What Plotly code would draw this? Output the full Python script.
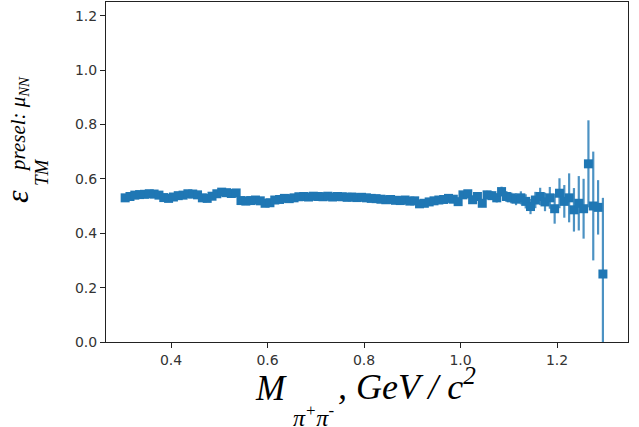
import plotly.graph_objects as go

# bin centres (GeV/c^2)
mass = [0.305 + 0.01 * i for i in range(100)]

eff = [
    0.530, 0.535, 0.540, 0.542, 0.543, 0.545, 0.544, 0.540, 0.531, 0.528,
    0.533, 0.538, 0.540, 0.545, 0.544, 0.541, 0.530, 0.528, 0.536, 0.545,
    0.551, 0.549, 0.546, 0.548, 0.520, 0.518, 0.520, 0.522, 0.519, 0.510,
    0.512, 0.522, 0.524, 0.528, 0.527, 0.530, 0.534, 0.535, 0.533, 0.536,
    0.535, 0.534, 0.536, 0.533, 0.535, 0.534, 0.532, 0.533, 0.531, 0.532,
    0.530, 0.528, 0.527, 0.525, 0.523, 0.524, 0.521, 0.520, 0.522, 0.518,
    0.519, 0.508, 0.510, 0.515, 0.519, 0.522, 0.524, 0.528, 0.525, 0.516,
    0.541, 0.545, 0.523, 0.535, 0.510, 0.541, 0.538, 0.530, 0.553, 0.535,
    0.530, 0.525, 0.530, 0.517, 0.498, 0.522, 0.535, 0.515, 0.530, 0.490,
    0.547, 0.517, 0.530, 0.486, 0.510, 0.490, 0.655, 0.500, 0.495, 0.250,
]

err = [
    0.004, 0.004, 0.004, 0.004, 0.004, 0.004, 0.004, 0.004, 0.004, 0.004,
    0.004, 0.004, 0.004, 0.004, 0.004, 0.004, 0.004, 0.004, 0.004, 0.004,
    0.004, 0.004, 0.004, 0.004, 0.004, 0.004, 0.004, 0.004, 0.004, 0.004,
    0.004, 0.004, 0.004, 0.004, 0.004, 0.004, 0.004, 0.004, 0.004, 0.004,
    0.005, 0.005, 0.005, 0.005, 0.005, 0.005, 0.005, 0.005, 0.005, 0.005,
    0.006, 0.006, 0.006, 0.006, 0.006, 0.006, 0.006, 0.006, 0.006, 0.006,
    0.008, 0.008, 0.008, 0.008, 0.008, 0.009, 0.009, 0.009, 0.010, 0.010,
    0.012, 0.012, 0.013, 0.013, 0.014, 0.015, 0.016, 0.017, 0.018, 0.020,
    0.020, 0.022, 0.024, 0.026, 0.028, 0.030, 0.032, 0.034, 0.040, 0.055,
    0.055, 0.060, 0.090, 0.080, 0.100, 0.110, 0.160, 0.200, 0.100, 0.280,
]

x_ticks = [0.4, 0.6, 0.8, 1.0, 1.2]
y_ticks = [0.0, 0.2, 0.4, 0.6, 0.8, 1.0, 1.2]

BLUE = "#1f77b4"

fig = go.Figure()
fig.add_trace(go.Scatter(
    x=mass, y=eff, mode="markers",
    marker=dict(symbol="square", size=9, color=BLUE, line=dict(width=0)),
    error_y=dict(type="data", array=err, visible=True, color="rgba(31,119,180,0.8)",
                 thickness=2.2, width=0),
    showlegend=False,
))

W, H = 639, 427
L, R, T, B = 106, 11, 2, 85
pw, ph = W - L - R, H - T - B


def px(xp):
    return (xp - L) / pw


def py(yp):
    return (H - B - yp) / ph


serif = "Liberation Serif"
ann = []
# y-axis label pieces
ann.append(dict(text="ε", x=px(17), y=py(197), xref="paper", yref="paper",
                xanchor="center", yanchor="middle", textangle=-90, showarrow=False,
                font=dict(family=serif, size=32, color="black", style="italic")))
ann.append(dict(text="TM", x=px(41), y=py(172), xref="paper", yref="paper",
                xanchor="center", yanchor="middle", textangle=-90, showarrow=False,
                font=dict(family=serif, size=19, color="black", style="italic")))
ann.append(dict(text="presel: μ<sub>NN</sub>", x=px(19), y=py(124), xref="paper", yref="paper",
                xanchor="center", yanchor="middle", textangle=-90, showarrow=False,
                font=dict(family=serif, size=21, color="black", style="italic")))
# x-axis label pieces
ann.append(dict(text="M", x=px(253), y=py(410), xref="paper", yref="paper",
                xanchor="left", yanchor="bottom", showarrow=False,
                font=dict(family=serif, size=35, color="black", style="italic")))
ann.append(dict(text="π<sup>+</sup>π<sup>-</sup>", x=px(291), y=py(433), xref="paper", yref="paper",
                xanchor="left", yanchor="bottom", showarrow=False,
                font=dict(family=serif, size=24, color="black", style="italic")))
ann.append(dict(text=", GeV / c<sup>2</sup>", x=px(336), y=py(409), xref="paper", yref="paper",
                xanchor="left", yanchor="bottom", showarrow=False,
                font=dict(family=serif, size=36, color="black", style="italic")))

axis_common = dict(
    showline=True, mirror=True, linecolor="#222", linewidth=1,
    ticks="outside", ticklen=5, tickwidth=1, tickcolor="#222",
    showgrid=False, zeroline=False, automargin=False,
    tickfont=dict(family="DejaVu Sans", size=14, color="#333"),
)

fig.update_layout(
    width=W, height=H,
    margin=dict(l=L, r=R, t=T, b=B, pad=0, autoexpand=False),
    paper_bgcolor="white", plot_bgcolor="white",
    xaxis=dict(range=[0.2653, 1.347], tickvals=x_ticks, tickformat=".1f", **axis_common),
    yaxis=dict(range=[0, 1.25], tickvals=y_ticks, tickformat=".1f", **axis_common),
    annotations=ann,
)

fig.write_html("out.html", config={"displayModeBar": False},
               post_script="document.body.style.margin='0';document.body.style.overflow='hidden';")
